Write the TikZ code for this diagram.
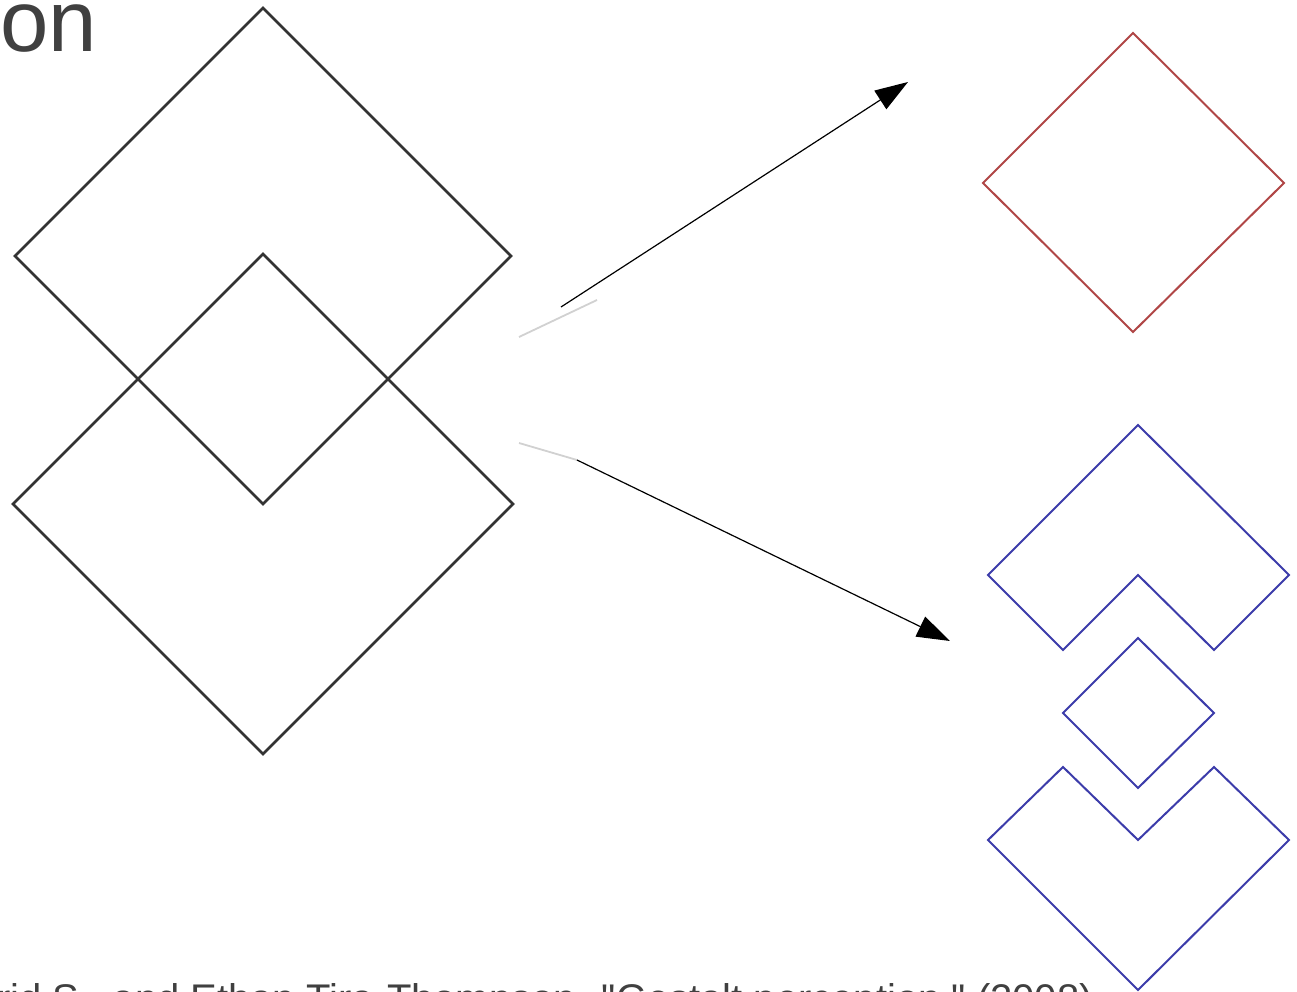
\documentclass[tikz,border=0pt]{standalone}
\usepackage{fontspec}
\setmainfont{Liberation Sans}
% plain family without TeX quote mapping, so " stays straight
\newfontfamily\citefont{Liberation Sans}
\usetikzlibrary{arrows.meta}
\definecolor{ink}{HTML}{404040}
\definecolor{outline}{HTML}{333333}
\definecolor{redline}{HTML}{B04646}
\definecolor{blueline}{HTML}{3C3CAA}
\begin{document}
\begin{tikzpicture}[x=1pt,y=-1pt,
  figline/.style={draw=outline, line width=2.6pt, line join=miter},
  redshape/.style={draw=redline, line width=2pt},
  blueshape/.style={draw=blueline, line width=2pt},
  faint/.style={draw=black!18, line width=1.8pt},
  arr/.style={draw=black, line width=1.2pt, -{Triangle[length=33pt,width=22pt]}},
  txt/.style={inner sep=0pt, anchor=base west, text=ink}]
\useasboundingbox (0,0) rectangle (1297,992);
\clip (0,0) rectangle (1297,992);

% caption fragments
\node[txt, font=\fontsize{87}{87}\selectfont] (title) at (0,52) {on};
\node[txt, font=\citefont\fontsize{40}{40}\selectfont] (cite) at (-3,1012)
  {rid S., and Ethan Tira-Thompson. "Gestalt perception." (2008)};

% two overlapping squares
\draw[figline] (263,8) -- (511,256) -- (263,504) -- (15,256) -- cycle;
\draw[figline] (263,254) -- (513,504) -- (263,754) -- (13,504) -- cycle;

% reading 1: a single square on top
\draw[redshape] (1133,33) -- (1284,183) -- (1133,332) -- (983,183) -- cycle;

% reading 2: two chevrons around a small square
\draw[blueshape] (1138,425) -- (1289,575) -- (1214,650) -- (1138,575)
  -- (1063,650) -- (988,575) -- cycle;
\draw[blueshape] (1138,638) -- (1214,713) -- (1138,788) -- (1063,713) -- cycle;
\draw[blueshape] (1063,767) -- (1138,840) -- (1214,767) -- (1289,840)
  -- (1138,990) -- (988,840) -- cycle;

% faint strokes near the arrow tails
\coordinate (f1a) at (519,337); \coordinate (f1b) at (597,300);
\coordinate (f2a) at (519,443); \coordinate (f2b) at (577,460);
\draw[faint] (f1a) -- (f1b);
\draw[faint] (f2a) -- (f2b);

% arrows
\coordinate (a1s) at (561,307); \coordinate (a1e) at (908,82);
\coordinate (a2s) at (577,460); \coordinate (a2e) at (950,641);
\draw[arr] (a1s) -- (a1e);
\draw[arr] (a2s) -- (a2e);
\end{tikzpicture}
\end{document}
